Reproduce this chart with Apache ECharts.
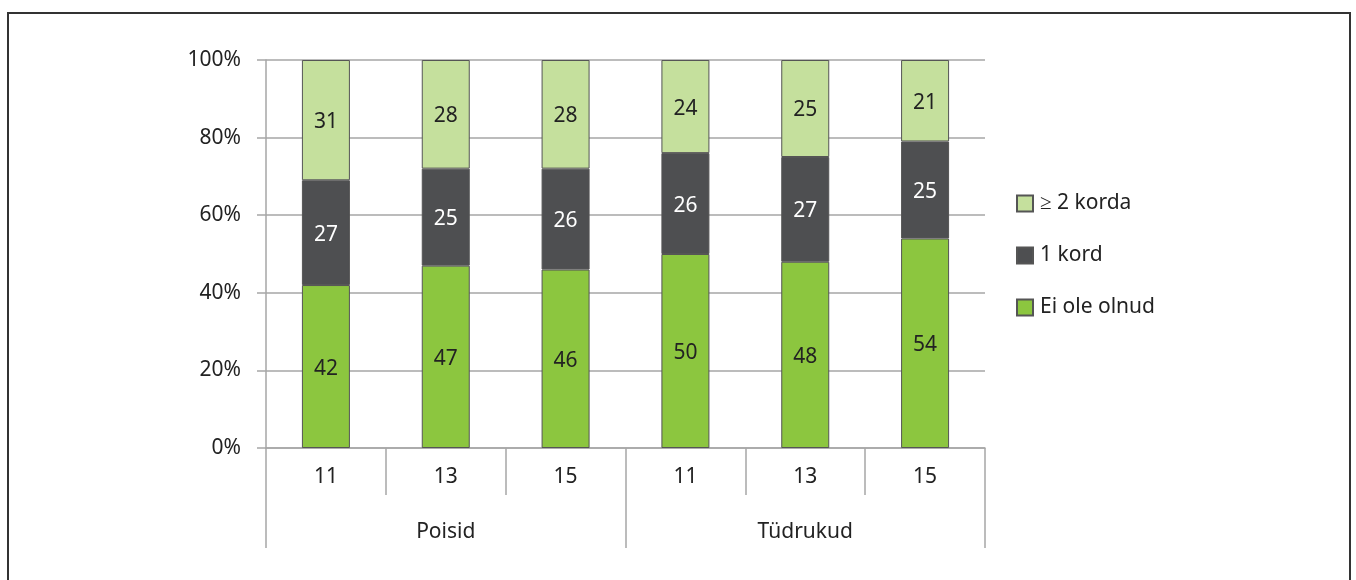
<!DOCTYPE html>
<html>
<head>
<meta charset="utf-8">
<script src="https://cdn.jsdelivr.net/npm/echarts@6/dist/echarts.min.js"></script>
<style>
  html, body { margin: 0; padding: 0; background: #fff; }
  #frame {
    position: absolute; left: 7px; top: 12px; width: 1344px; height: 580px;
    border: 2px solid #333; border-bottom: none; box-sizing: border-box;
  }
  #chart { position: absolute; left: 0; top: 0; width: 1356px; height: 580px; }
</style>
</head>
<body>
<div id="frame"></div>
<div id="chart"></div>
<script>
// ages and groups
const ages = ['11', '13', '15', '11', '13', '15']
const groups = ['Poisid', 'Tüdrukud']
const legendNames = ['≥ 2 korda', '1 kord', 'Ei ole olnud']

// shares, %
const eiOleOlnud = [42, 47, 46, 50, 48, 54]
const yksKord = [27, 25, 26, 26, 27, 25]
const kaksVoiEnam = [31, 28, 28, 24, 25, 21]

const textColor = '#222'
const lineColor = '#a6a6a6'
const font = 'Noto Sans'
const fs = 21

function barSeries(name, data, color, labelColor) {
  return {
    name: name,
    type: 'bar',
    stack: 'total',
    barWidth: 48,
    data: data,
    itemStyle: {
      color: color,
      borderColor: '#555',
      borderWidth: 1
    },
    label: {
      show: true,
      position: 'inside',
      offset: [0, 2],
      color: labelColor,
      fontSize: fs,
      fontFamily: font
    }
  }
}

const chart = echarts.init(document.getElementById('chart'))
chart.setOption({
  animation: false,
  textStyle: { fontFamily: font },
  grid: { left: 266, right: 371, top: 60, bottom: 132 },
  legend: {
    orient: 'vertical',
    left: 1016,
    top: 193,
    padding: 0,
    icon: 'rect',
    itemWidth: 16,
    itemHeight: 16,
    itemGap: 31,
    data: legendNames,
    textStyle: { fontSize: fs, color: textColor, fontFamily: font, padding: [2, 0, 0, 2] }
  },
  xAxis: [
    {
      type: 'category',
      data: ages,
      position: 'bottom',
      axisLine: { show: true, lineStyle: { color: lineColor, width: 1.5 } },
      axisTick: { show: true, interval: 0, length: 47, lineStyle: { color: lineColor, width: 1.5 } },
      axisLabel: { color: textColor, fontSize: fs, margin: 19, fontFamily: font }
    },
    {
      type: 'category',
      data: groups,
      position: 'bottom',
      axisLine: { show: false },
      axisTick: { show: true, interval: 0, length: 100, lineStyle: { color: lineColor, width: 1.5 } },
      axisLabel: { color: textColor, fontSize: fs, margin: 74, fontFamily: font }
    }
  ],
  yAxis: {
    type: 'value',
    min: 0,
    max: 100,
    interval: 20,
    axisLine: { show: true, lineStyle: { color: lineColor, width: 1.5 } },
    axisTick: { show: true, length: 9, lineStyle: { color: lineColor, width: 1.5 } },
    splitLine: { show: true, lineStyle: { color: lineColor, width: 1.5 } },
    axisLabel: { formatter: '{value}%', color: textColor, fontSize: fs, margin: 25, fontFamily: font, padding: [3, 0, 0, 0] }
  },
  series: [
    barSeries('Ei ole olnud', eiOleOlnud, '#8cc63f', textColor),
    barSeries('1 kord', yksKord, '#4e4f51', '#fff'),
    barSeries('≥ 2 korda', kaksVoiEnam, '#c5e09d', textColor)
  ]
})
</script>
</body>
</html>
